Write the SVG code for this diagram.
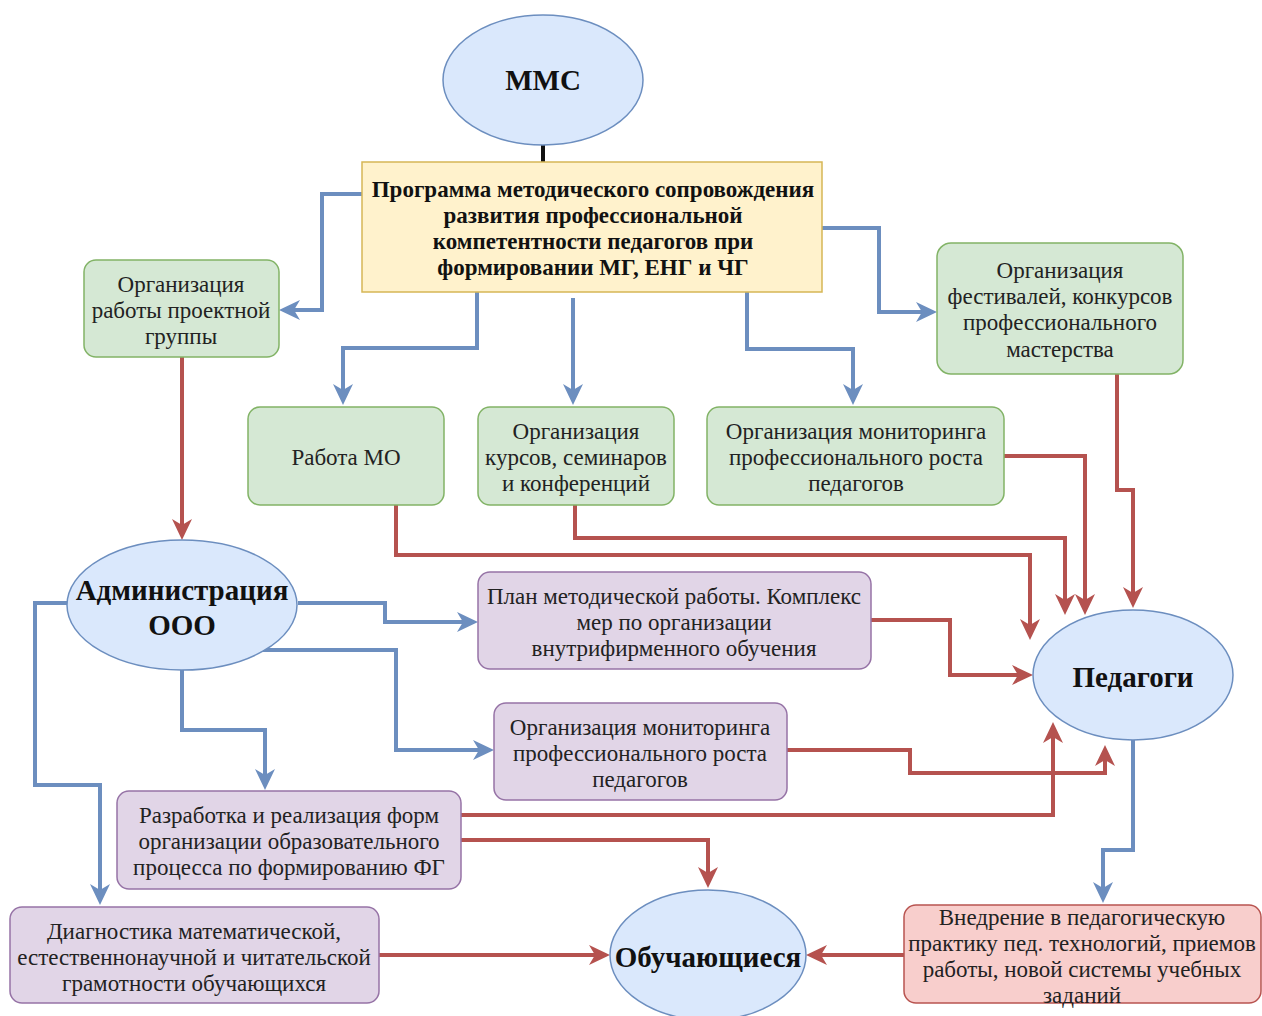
<svg xmlns="http://www.w3.org/2000/svg" width="1262" height="1016" viewBox="0 0 1262 1016">
<style>
.t{font-family:"Liberation Serif","Times New Roman",serif;font-size:23px;fill:#222;text-anchor:middle}
.b{font-weight:bold;fill:#111}
.big{font-size:29px}
.ell{fill:#dae8fc;stroke:#6c8ebf;stroke-width:1.5}
.g{fill:#d5e8d4;stroke:#82b366;stroke-width:1.5}
.p{fill:#e1d5e7;stroke:#9673a6;stroke-width:1.5}
.y{fill:#fff2cc;stroke:#d6b656;stroke-width:1.5}
.r{fill:#f8cecc;stroke:#b85450;stroke-width:1.5}
.cb{fill:none;stroke:#6c8ebf;stroke-width:4;marker-end:url(#ab)}
.cr{fill:none;stroke:#b5524f;stroke-width:4;marker-end:url(#ar)}
</style>
<defs>
<marker id="ab" markerUnits="userSpaceOnUse" markerWidth="22" markerHeight="22" refX="17" refY="10" orient="auto" viewBox="0 0 22 22" overflow="visible"><path d="M0,0 L21,10 L0,20 L6,10 z" fill="#6c8ebf"/></marker>
<marker id="ar" markerUnits="userSpaceOnUse" markerWidth="22" markerHeight="22" refX="17" refY="10" orient="auto" viewBox="0 0 22 22" overflow="visible"><path d="M0,0 L21,10 L0,20 L6,10 z" fill="#b5524f"/></marker>
</defs>
<rect width="1262" height="1016" fill="#fff"/>
<g id="connectors">
<line x1="543" y1="145" x2="543" y2="162" stroke="#111" stroke-width="4"/>
<path class="cb" d="M362,194 H322 V310 H283"/>
<path class="cb" d="M822,228 H879 V312 H933"/>
<path class="cb" d="M477,292 V348 H343 V401"/>
<path class="cb" d="M573,298 V401"/>
<path class="cb" d="M747,292 V349 H853 V401"/>
<path class="cr" d="M182,357 V536"/>
<path class="cr" d="M396,505 V555 H1030 V636"/>
<path class="cr" d="M575,505 V538 H1065 V611"/>
<path class="cr" d="M1004,456 H1085 V611"/>
<path class="cr" d="M1117,374 V490 H1133 V604"/>
<path class="cr" d="M871,620 H950 V675 H1029"/>
<path class="cr" d="M787,750 H910 V773 H1105 V749"/>
<path class="cr" d="M461,815 H1053 V726"/>
<path class="cr" d="M461,840 H708 V884"/>
<path class="cr" d="M379,955 H606"/>
<path class="cr" d="M904,955 H810"/>
<path class="cb" d="M298,603 H385 V622 H474"/>
<path class="cb" d="M262,650 H396 V750 H490"/>
<path class="cb" d="M182,670 V730 H265 V786"/>
<path class="cb" d="M68,603 H35 V785 H100 V901"/>
<path class="cb" d="M1133,740 V850 H1103 V899"/>
</g>
<g id="mmc"><ellipse class="ell" cx="543" cy="80" rx="100" ry="65"/><text class="t b big" x="543" y="90">ММС</text></g>
<g id="program"><rect class="y" x="362" y="162" width="460" height="130"/>
<text class="t b" x="593" y="197">Программа методического сопровождения</text>
<text class="t b" x="593" y="223">развития профессиональной</text>
<text class="t b" x="593" y="249">компетентности педагогов при</text>
<text class="t b" x="593" y="275">формировании МГ, ЕНГ и ЧГ</text></g>
<g id="project"><rect class="g" x="84" y="260" width="195" height="97" rx="12"/>
<text class="t" x="181" y="292">Организация</text><text class="t" x="181" y="318">работы проектной</text><text class="t" x="181" y="344">группы</text></g>
<g id="festivals"><rect class="g" x="937" y="243" width="246" height="131" rx="14"/>
<text class="t" x="1060" y="278">Организация</text><text class="t" x="1060" y="304">фестивалей, конкурсов</text><text class="t" x="1060" y="330">профессионального</text><text class="t" x="1060" y="357">мастерства</text></g>
<g id="mo"><rect class="g" x="248" y="407" width="196" height="98" rx="12"/><text class="t" x="346" y="465">Работа МО</text></g>
<g id="courses"><rect class="g" x="478" y="407" width="196" height="98" rx="12"/>
<text class="t" x="576" y="439">Организация</text><text class="t" x="576" y="465">курсов, семинаров</text><text class="t" x="576" y="491">и конференций</text></g>
<g id="monitoring1"><rect class="g" x="707" y="407" width="297" height="98" rx="12"/>
<text class="t" x="856" y="439">Организация мониторинга</text><text class="t" x="856" y="465">профессионального роста</text><text class="t" x="856" y="491">педагогов</text></g>
<g id="admin"><ellipse class="ell" cx="182" cy="605" rx="115" ry="65"/>
<text class="t b big" x="182" y="600">Администрация</text><text class="t b big" x="182" y="635">ООО</text></g>
<g id="plan"><rect class="p" x="478" y="572" width="393" height="97" rx="12"/>
<text class="t" x="674" y="604">План методической работы. Комплекс</text><text class="t" x="674" y="630">мер по организации</text><text class="t" x="674" y="656">внутрифирменного обучения</text></g>
<g id="teachers"><ellipse class="ell" cx="1133" cy="675" rx="100" ry="65"/><text class="t b big" x="1133" y="687">Педагоги</text></g>
<g id="monitoring2"><rect class="p" x="494" y="703" width="293" height="97" rx="12"/>
<text class="t" x="640" y="735">Организация мониторинга</text><text class="t" x="640" y="761">профессионального роста</text><text class="t" x="640" y="787">педагогов</text></g>
<g id="forms"><rect class="p" x="117" y="791" width="344" height="98" rx="12"/>
<text class="t" x="289" y="823">Разработка и реализация форм</text><text class="t" x="289" y="849">организации образовательного</text><text class="t" x="289" y="875">процесса по формированию ФГ</text></g>
<g id="diagnostics"><rect class="p" x="10" y="907" width="369" height="96" rx="12"/>
<text class="t" x="194" y="939">Диагностика математической,</text><text class="t" x="194" y="965">естественнонаучной и читательской</text><text class="t" x="194" y="991">грамотности обучающихся</text></g>
<g id="students"><ellipse class="ell" cx="708" cy="955" rx="98" ry="65"/><text class="t b big" x="708" y="967">Обучающиеся</text></g>
<g id="implementation"><rect class="r" x="904" y="905" width="357" height="98" rx="12"/>
<text class="t" x="1082" y="925">Внедрение в педагогическую</text><text class="t" x="1082" y="951">практику пед. технологий, приемов</text><text class="t" x="1082" y="977">работы, новой системы учебных</text><text class="t" x="1082" y="1003">заданий</text></g>
</svg>
